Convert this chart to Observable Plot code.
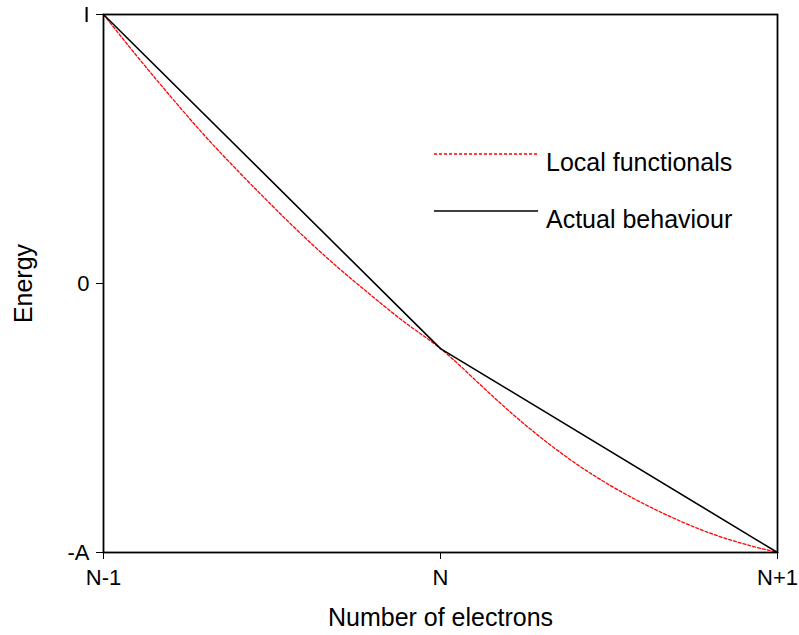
<!DOCTYPE html>
<html>
<head>
<meta charset="utf-8">
<script src="https://cdn.jsdelivr.net/npm/d3@7"></script>
<script src="https://cdn.jsdelivr.net/npm/@observablehq/plot@0.6"></script>
<style>
  html, body { margin: 0; padding: 0; background: #fff; }
  #wrap { position: relative; width: 799px; height: 635px; font-family: "Liberation Sans", Arial, sans-serif; }
  #legend { position: absolute; left: 0; top: 0; pointer-events: none; }
</style>
</head>
<body>
<div id="wrap"></div>
<script>
// Electron number relative to N (N-1 -> -1, N -> 0, N+1 -> 1)
const xTickValues = [-1, 0, 1];
const xTickLabels = ["N-1", "N", "N+1"];
// Energy scaled so that I -> 1, 0 -> 0, -A -> -1
const yTickValues = [-1, 0, 1];
const yTickLabels = ["-A", "0", "I"];

// Actual behaviour (piecewise linear)
const actualX = [-1, 0, 1];
const actualY = [1, -0.242, -1];

// Local functionals (convex curve)
const localX = [-1, -0.9, -0.8, -0.7, -0.6, -0.5, -0.4, -0.3, -0.2, -0.1, 0, 0.1, 0.2, 0.3, 0.4, 0.5, 0.6, 0.7, 0.8, 0.9, 1];
const localY = [1, 0.844, 0.694, 0.550, 0.417, 0.290, 0.168, 0.055, -0.050, -0.150, -0.242, -0.355, -0.470, -0.575, -0.668, -0.748, -0.817, -0.877, -0.928, -0.968, -1];

const legendItems = ["Local functionals", "Actual behaviour"];
const legendColors = ["#ff0000", "#000000"];
const legendDashes = ["3,2", null];

const actual = actualX.map((x, i) => ({x, y: actualY[i]}));
const local = localX.map((x, i) => ({x, y: localY[i]}));

const chart = Plot.plot({
  width: 799,
  height: 635,
  marginLeft: 103,
  marginRight: 22,
  marginTop: 14,
  marginBottom: 83,
  style: {fontFamily: "Liberation Sans, Arial, sans-serif", color: "#000", background: "#fff"},
  x: {domain: [-1, 1]},
  y: {domain: [-1, 1]},
  marks: [
    Plot.axisX({
      ticks: xTickValues,
      tickFormat: d => xTickLabels[xTickValues.indexOf(d)],
      tickSize: 7, tickPadding: 10, fontSize: 22,
      label: "Number of electrons", labelAnchor: "center", labelArrow: "none", labelOffset: 73
    }),
    Plot.axisY({
      ticks: yTickValues,
      tickFormat: d => yTickLabels[yTickValues.indexOf(d)],
      tickSize: 7, tickPadding: 7, fontSize: 22,
      label: "Energy", labelAnchor: "center", labelArrow: "none", labelOffset: 89
    }),
    Plot.line(local, {x: "x", y: "y", stroke: "#ff0000", strokeWidth: 1.3, strokeDasharray: "3,2", curve: "natural"}),
    Plot.line(actual, {x: "x", y: "y", stroke: "#000", strokeWidth: 1.6}),
    Plot.frame({stroke: "#000", strokeWidth: 1.8})
  ]
});

const wrap = document.getElementById("wrap");
wrap.appendChild(chart);

// Font sizes for tick labels and axis titles
const tickLabelSet = new Set([...xTickLabels, ...yTickLabels]);
chart.querySelectorAll("text").forEach(t => {
  const s = t.textContent.trim();
  if (tickLabelSet.has(s)) { t.setAttribute("font-size", 22); t.style.fontSize = "22px"; }
  else if (s === "Number of electrons" || s === "Energy") { t.setAttribute("font-size", 25); t.style.fontSize = "25px"; }
  t.style.fill = "#000";
});

// Legend overlay
const ns = "http://www.w3.org/2000/svg";
const leg = document.createElementNS(ns, "svg");
leg.setAttribute("id", "legend");
leg.setAttribute("width", 799);
leg.setAttribute("height", 635);
const legLineY = [154, 211];
legendItems.forEach((name, i) => {
  const l = document.createElementNS(ns, "line");
  l.setAttribute("x1", 434); l.setAttribute("x2", 538);
  l.setAttribute("y1", legLineY[i]); l.setAttribute("y2", legLineY[i]);
  l.setAttribute("stroke", legendColors[i]);
  l.setAttribute("stroke-width", i === 0 ? 1.3 : 1.6);
  if (legendDashes[i]) l.setAttribute("stroke-dasharray", legendDashes[i]);
  leg.appendChild(l);
  const t = document.createElementNS(ns, "text");
  t.setAttribute("x", 546);
  t.setAttribute("y", legLineY[i] + 17);
  t.setAttribute("font-size", 25);
  t.setAttribute("font-family", "Liberation Sans, Arial, sans-serif");
  t.setAttribute("fill", "#000");
  t.textContent = name;
  leg.appendChild(t);
});
wrap.appendChild(leg);
</script>
</body>
</html>
